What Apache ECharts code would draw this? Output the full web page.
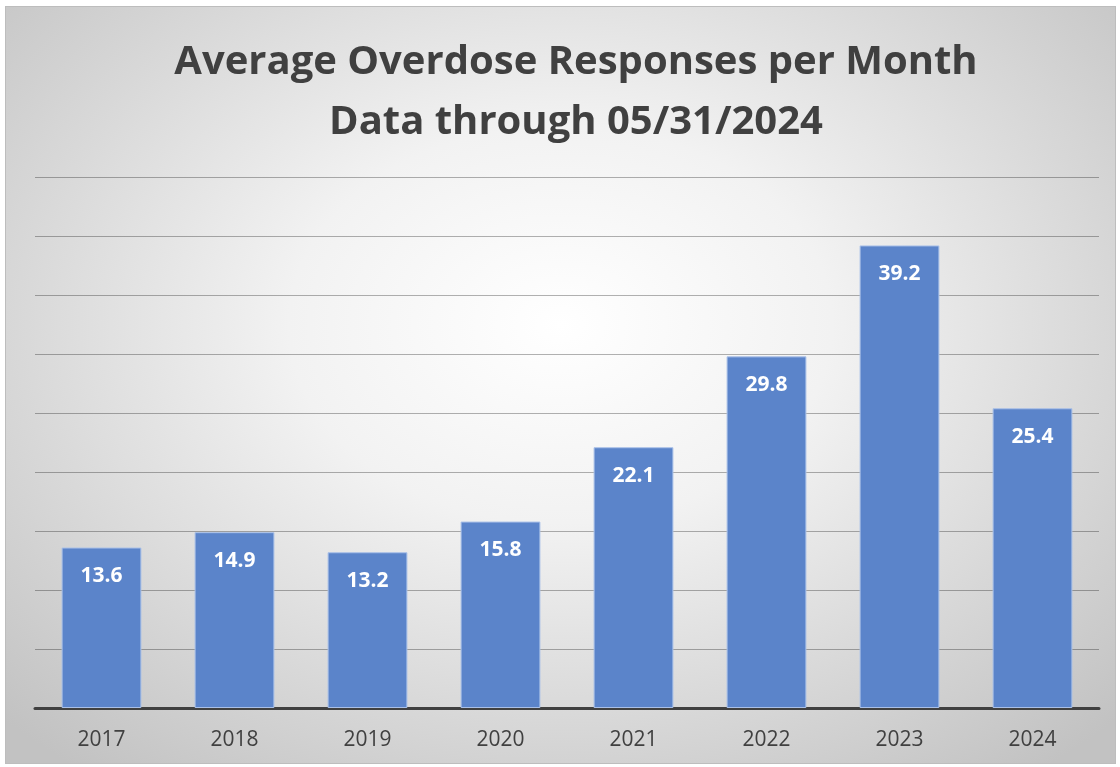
<!DOCTYPE html>
<html>
<head>
<meta charset="utf-8">
<script src="https://cdn.jsdelivr.net/npm/echarts@6/dist/echarts.min.js"></script>
<style>
  html, body { margin: 0; padding: 0; background: #ffffff; }
  #frame {
    position: absolute; left: 5px; top: 6px; width: 1111px; height: 758px;
    box-sizing: border-box; border: 1px solid #bdbdbd;
    background: radial-gradient(ellipse 70% 75% at 50% 42%, #ffffff 0%, #f2f2f2 35%, #d8d8d8 70%, #c2c2c2 100%);
  }
  #chart { position: absolute; left: 0; top: 0; width: 1120px; height: 767px; }
</style>
</head>
<body>
<div id="frame"></div>
<div id="chart"></div>
<script>
// data
const titleLines = ["Average Overdose Responses per Month", "Data through 05/31/2024"];
const years = ["2017", "2018", "2019", "2020", "2021", "2022", "2023", "2024"];
const avgResponses = [13.6, 14.9, 13.2, 15.8, 22.1, 29.8, 39.2, 25.4];

const chart = echarts.init(document.getElementById("chart"));

const option = {
  backgroundColor: "transparent",
  animation: false,
  title: {
    text: titleLines.join("\n"),
    left: 571,
    textAlign: "center",
    top: 28,
    textStyle: {
      fontFamily: "Open Sans",
      fontWeight: "bold",
      fontSize: 40,
      lineHeight: 60,
      color: "#404040",
    },
  },
  grid: { left: 35, right: 21, top: 177, bottom: 59 },
  xAxis: {
    type: "category",
    data: years,
    axisLine: { lineStyle: { color: "#404040", width: 3 } },
    axisTick: { show: false },
    axisLabel: {
      margin: 22,
      fontFamily: "Open Sans",
      fontSize: 21,
      color: "#404040",
    },
  },
  yAxis: {
    type: "value",
    min: 0,
    max: 45,
    interval: 5,
    axisLabel: { show: false },
    axisLine: { show: false },
    axisTick: { show: false },
    splitLine: { lineStyle: { color: "rgba(0,0,0,0.3)", width: 1 } },
  },
  series: [
    {
      type: "bar",
      data: avgResponses,
      barCategoryGap: "40%",
      itemStyle: { color: "#5b84ca", borderColor: "#a9c0e8", borderWidth: 1 },
      label: {
        show: true,
        position: "insideTop",
        distance: 18,
        fontFamily: "Open Sans",
        fontWeight: "bold",
        fontSize: 21,
        color: "#ffffff",
      },
    },
  ],
};

chart.setOption(option);
window.addEventListener("resize", () => {
  chart.resize();
});
</script>
</body>
</html>
